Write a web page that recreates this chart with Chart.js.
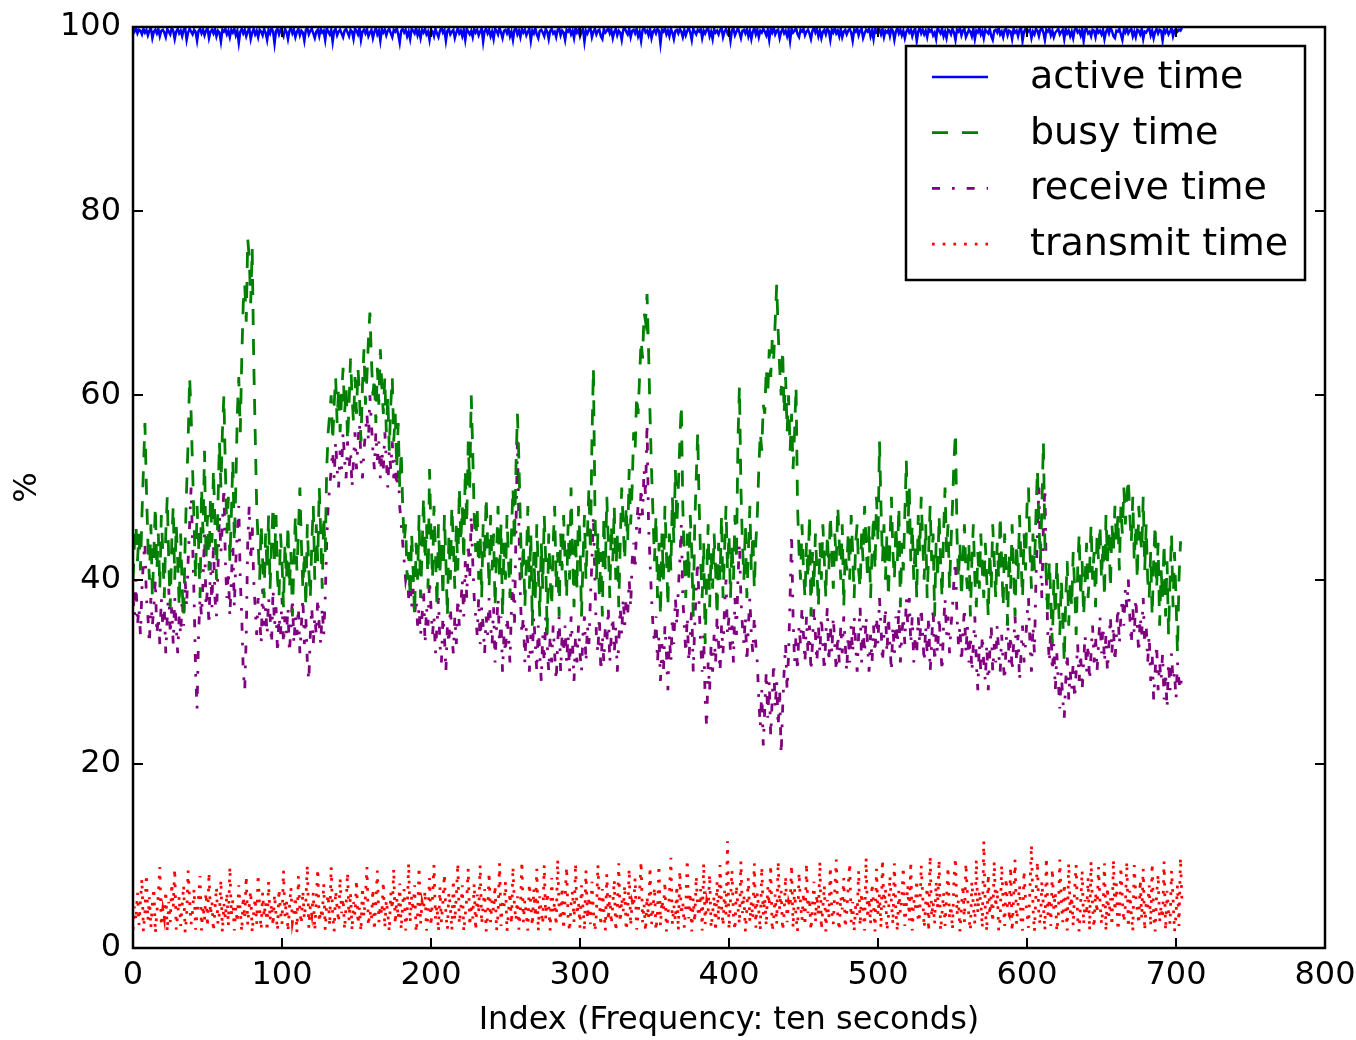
<!DOCTYPE html>
<html>
<head>
<meta charset="utf-8">
<script src="https://cdn.jsdelivr.net/npm/chart.js@4.4.1/dist/chart.umd.min.js"></script>
<style>
  html, body { margin: 0; padding: 0; background: #fff; }
  #wrap { width: 1356px; height: 1040px; }
</style>
</head>
<body>
<div id="wrap"><canvas id="c" width="1356" height="1040"></canvas></div>
<script>
const seriesNames = ["active time", "busy time", "receive time", "transmit time"];
const xTicks = [0, 100, 200, 300, 400, 500, 600, 700, 800];
const yTicks = [0, 20, 40, 60, 80, 100];

const activeTime = [
99.8,99.5,99.9,99.3,99.7,99.6,99.2,99.8,99.4,99.7,
99.1,99.6,99.9,98.8,99.5,99.7,99.3,99.8,99.0,99.6,
99.7,99.4,98.9,99.8,99.5,99.2,99.9,99.6,98.7,99.5,
99.8,99.3,99.6,99.0,99.7,99.9,98.6,99.4,99.8,99.5,
99.2,99.7,99.5,98.5,99.6,99.8,99.3,99.7,99.1,99.6,
99.9,98.8,99.5,99.7,99.3,99.8,99.0,99.6,99.4,98.4,
99.7,99.5,99.8,99.2,99.6,98.9,99.7,99.4,99.8,99.1,
99.6,98.3,99.5,99.8,99.3,99.7,99.0,99.5,99.9,98.7,
99.4,99.8,99.2,99.6,98.9,99.7,99.5,99.1,99.8,99.4,
98.6,99.7,99.3,99.9,99.5,98.2,99.6,99.8,99.2,99.7,
99.4,99.0,99.8,99.5,98.7,99.6,99.9,99.3,99.7,98.9,
99.5,99.8,99.1,99.6,99.4,98.5,99.7,99.9,99.2,99.6,
99.8,99.3,98.8,99.5,99.7,99.0,99.8,99.4,99.6,98.6,
99.9,99.5,99.2,99.7,98.4,99.6,99.8,99.1,99.5,99.7,
99.3,98.9,99.6,99.8,99.4,99.0,99.7,99.5,98.7,99.8,
99.6,99.2,99.9,98.6,99.5,99.7,99.3,99.8,99.0,99.4,
99.7,98.8,99.5,99.9,99.2,99.6,98.5,99.8,99.4,99.7,
99.1,99.6,99.8,99.3,98.9,99.7,99.5,99.9,99.2,98.3,
99.6,99.8,99.4,99.7,99.0,99.5,98.7,99.8,99.6,99.3,
99.9,99.1,99.6,98.8,99.7,99.4,99.8,99.2,99.5,98.6,
99.7,99.5,99.0,99.8,99.3,98.9,99.6,99.9,99.4,99.7,
98.5,99.6,99.8,99.2,99.5,99.7,98.8,99.4,99.9,99.3,
99.6,99.0,99.7,98.6,99.8,99.5,99.2,99.6,98.9,99.8,
99.4,99.7,99.1,99.5,99.9,98.4,99.6,99.8,99.3,99.7,
99.0,99.5,98.7,99.8,99.6,99.2,99.9,99.4,98.8,99.6,
99.7,99.3,99.8,99.0,99.5,98.6,99.7,99.9,99.2,99.6,
98.9,99.8,99.4,99.7,99.1,99.5,99.8,98.5,99.6,99.3,
99.9,99.2,98.8,99.6,99.7,99.4,99.0,99.8,99.5,98.7,
99.6,99.8,99.3,99.5,98.9,99.7,99.9,99.1,99.6,99.4,
98.6,99.7,99.5,99.8,99.2,99.6,98.8,99.9,99.4,99.7,
99.0,99.5,99.8,98.4,99.6,99.3,99.7,99.9,98.9,99.5,
99.8,99.2,99.6,99.7,99.0,98.7,99.8,99.4,99.6,99.9,
99.3,99.7,98.8,99.5,99.8,99.1,99.6,99.4,98.6,99.7,
99.9,99.5,99.2,99.8,98.9,99.6,99.7,99.3,99.8,99.0,
99.5,98.5,99.7,99.9,99.4,99.6,99.1,99.8,98.8,99.5,
99.7,99.3,99.8,99.6,98.2,99.7,99.5,99.9,99.2,99.6,
99.0,99.8,99.4,98.7,99.6,99.7,99.3,99.8,99.5,98.9,
99.7,99.1,99.6,99.9,99.4,98.6,99.8,99.5,99.2,99.7,
99.5,99.8,98.8,99.6,99.3,99.7,99.9,99.0,99.5,98.7,
99.8,99.4,99.6,99.2,99.7,99.9,98.9,99.5,99.8,99.3,
99.6,98.5,99.7,99.8,99.1,99.5,99.9,99.4,98.8,99.6,
99.7,99.3,99.8,99.0,99.6,98.7,99.5,99.9,99.2,99.7,
98.9,99.6,99.4,99.8,99.5,99.1,99.7,98.6,99.8,99.4,
99.9,99.2,99.6,99.7,98.8,99.5,99.8,99.3,99.6,99.0,
99.7,98.5,99.8,99.4,99.6,99.9,99.2,98.9,99.7,99.5,
99.8,99.1,99.5,99.7,99.3,98.7,99.6,99.9,99.4,99.8,
99.0,99.6,98.8,99.5,99.7,99.2,99.8,99.6,98.6,99.7,
99.4,99.9,99.3,99.6,99.0,99.8,98.9,99.5,99.7,99.2,
99.6,99.8,99.4,98.5,99.7,99.5,99.9,99.1,99.6,99.8,
98.8,99.3,99.7,99.5,99.8,99.0,99.6,98.7,99.9,99.4,
99.5,99.7,99.2,99.8,98.9,99.6,99.4,99.7,99.0,99.8,
99.6,98.6,99.5,99.9,99.3,99.7,99.1,99.6,98.8,99.5,
99.8,99.4,99.7,99.0,99.6,99.8,98.5,99.5,99.9,99.3,
99.7,99.2,99.6,98.9,99.8,99.5,99.7,99.1,99.4,98.7,
99.9,99.6,99.3,99.8,99.0,99.5,98.8,99.7,99.6,99.2,
99.8,99.4,98.6,99.7,99.5,99.9,99.1,99.6,99.8,98.9,
99.3,99.7,99.5,99.0,99.8,98.7,99.6,99.4,99.9,99.2,
99.6,98.8,99.7,99.5,99.3,99.8,99.0,98.6,99.6,99.7,
99.4,99.9,99.2,99.5,98.9,99.7,99.8,99.1,99.6,99.5,
98.7,99.8,99.4,99.6,99.0,99.7,99.9,98.5,99.5,99.8,
99.3,99.6,99.7,98.8,99.5,99.2,99.8,99.6,99.0,99.7,
99.9,99.4,98.6,99.7,99.5,99.8,99.1,99.6,98.9,99.4,
99.6,99.8,99.2,99.5,99.7,98.7,99.8,99.3,99.6,99.0,
99.5,98.8,99.7,99.9,99.4,99.6,99.1,99.8,98.5,99.7,
99.8,99.3,99.5,99.0,99.7,99.6,98.9,99.8,99.4,99.6,
99.2,99.7,98.7,99.5,99.8,99.3,99.9,99.6,99.0,98.8,
99.6,99.5,99.8,99.2,98.6,99.7,99.4,99.9,99.3,99.6,
99.8,99.0,99.5,98.9,99.7,99.6,99.2,99.8,98.7,99.5,
99.4,99.7,99.9,99.1,99.6,98.8,99.5,99.8,99.3,99.7,
99.6,98.5,99.8,99.4,99.7,99.2,99.5,99.9,99.0,99.6,
99.8,99.5,99.7,99.6,99.9
];

const busyTime = [
40,44,46,42,45,41,47,52,57,50,
44,40,46,38,43,48,41,45,39,47,
43,38,45,49,42,37,44,48,40,46,
42,37,45,39,36,44,50,55,62,58,
52,46,40,48,44,38,50,45,54,42,
47,41,49,44,52,46,40,48,55,50,
56,60,52,45,49,42,47,53,44,50,
58,62,56,64,70,72,68,77,75,70,
76,64,56,48,44,40,46,42,38,45,
41,47,39,44,48,42,47,40,38,45,
42,37,44,40,46,39,43,36,42,47,
41,45,50,44,39,43,37,46,41,38,
44,48,40,46,42,50,45,39,47,43,
52,56,58,60,55,59,62,57,61,56,
60,63,58,61,55,59,64,60,57,62,
58,63,60,55,61,65,59,62,66,69,
64,60,62,57,63,59,65,61,58,62,
56,60,54,59,62,55,58,52,57,50,
54,48,44,46,40,43,38,45,41,36,
44,40,47,38,43,49,42,46,39,52,
45,40,48,43,37,46,41,44,38,47,
42,36,45,40,48,44,39,46,41,50,
44,48,42,52,46,55,50,60,54,47,
43,48,40,45,38,46,42,49,44,39,
47,41,45,37,43,48,40,46,36,44,
40,47,42,38,45,50,44,52,58,53,
46,40,44,37,42,48,39,45,35,43,
38,46,41,36,44,39,47,42,34,45,
40,37,44,48,39,43,36,45,41,47,
42,38,46,40,50,43,37,45,39,48,
44,36,42,47,40,45,50,43,55,63,
48,40,45,38,43,36,47,41,49,44,
38,46,42,48,40,45,37,44,50,46,
42,48,44,52,46,50,56,54,60,58,
62,66,64,69,68,71,65,58,52,47,
42,47,38,44,36,45,40,48,43,37,
45,41,49,44,52,46,50,55,59,48,
42,38,45,40,47,43,36,46,51,56,
48,42,38,44,33,40,46,37,43,39,
45,41,36,44,40,47,38,43,48,41,
45,38,44,40,47,42,55,61,50,44,
40,46,38,43,48,41,45,39,44,47,
52,56,54,59,58,63,60,65,62,66,
64,68,72,67,63,60,65,58,62,56,
60,54,58,52,56,61,48,43,40,46,
41,38,44,40,47,36,43,39,45,41,
37,44,40,46,42,38,45,41,47,43,
39,45,42,48,44,40,46,37,43,41,
45,40,47,43,38,44,46,41,39,45,
42,48,44,40,46,38,43,47,41,49,
44,55,48,42,46,40,45,38,44,49,
43,40,46,42,48,37,44,41,47,53,
45,50,42,46,40,44,38,47,43,49,
44,40,46,38,43,48,42,45,36,44,
40,47,42,38,45,50,43,46,39,44,
48,53,56,45,40,44,38,42,46,41,
39,44,36,42,46,40,37,43,39,45,
41,38,44,40,36,43,39,46,42,38,
44,40,47,42,37,45,41,35,43,39,
46,41,36,44,40,47,42,38,45,41,
48,50,43,39,45,41,47,52,46,42,
48,55,44,40,36,42,38,33,40,36,
42,38,34,40,36,31,38,42,35,40,
37,43,39,34,41,45,38,42,36,40,
44,38,41,46,40,43,37,45,42,46,
40,44,38,47,42,45,39,46,43,48,
44,47,41,48,45,50,46,49,51,47,
44,49,42,46,40,48,45,43,49,41,
46,40,38,43,36,42,46,39,44,35,
41,38,44,36,42,34,40,45,37,43,
38,32,40,44,44
];

const receiveTime = [
38,36,40,35,37,34,39,42,44,38,
36,33,38,35,37,40,34,36,33,38,
35,37,32,36,39,34,37,33,38,35,
32,36,34,38,35,40,37,42,46,50,
44,38,30,26,34,38,36,40,45,37,
39,35,42,37,44,38,36,41,47,43,
46,50,42,38,41,36,40,44,37,42,
45,48,40,36,30,28,34,44,48,42,
46,40,37,34,38,36,33,39,35,37,
34,38,36,33,39,35,37,32,36,34,
38,33,36,34,37,32,35,38,33,36,
34,37,32,35,38,33,36,31,29,34,
37,33,36,34,38,35,33,37,34,38,
44,48,50,52,54,51,55,52,50,54,
52,56,53,51,55,52,54,50,53,56,
52,55,57,53,51,54,56,58,55,60,
57,54,52,56,53,55,51,54,52,56,
53,50,54,52,55,51,53,50,52,48,
46,44,42,40,41,38,40,37,39,36,
38,35,37,34,36,39,33,37,35,40,
37,34,36,32,35,38,33,31,36,34,
30,35,33,37,34,32,36,33,38,35,
37,40,36,42,38,44,40,47,42,38,
36,34,38,33,37,35,32,36,34,38,
35,33,37,31,35,38,33,36,30,34,
32,36,34,31,37,40,35,45,55,46,
38,34,36,31,35,33,30,34,32,36,
33,30,35,32,29,34,31,36,33,30,
34,31,35,32,29,33,36,30,34,32,
35,31,34,30,36,33,29,34,31,35,
32,30,34,36,31,35,33,38,42,47,
40,34,32,36,30,34,31,35,33,37,
31,34,36,32,35,30,33,37,34,38,
35,38,36,40,37,42,44,41,46,48,
45,50,47,52,49,57,46,42,38,35,
33,36,31,34,29,33,30,35,32,28,
34,31,36,33,38,35,39,42,46,38,
35,32,36,31,34,37,30,35,39,42,
37,33,30,34,27,24,31,28,33,30,
34,31,36,33,30,35,32,37,40,34,
36,32,35,31,38,34,40,44,38,35,
33,36,31,35,38,34,32,36,33,31,
27,24,28,22,26,30,25,29,23,27,
31,26,29,24,28,21,26,30,33,28,
32,38,45,36,31,34,30,35,33,37,
34,31,36,32,35,30,33,37,34,31,
35,32,36,33,30,34,37,31,35,32,
36,33,30,34,31,35,32,36,33,30,
34,31,35,32,36,33,30,34,37,31,
35,32,36,33,30,34,31,35,32,36,
33,38,35,31,34,37,32,36,33,30,
35,32,36,33,37,31,34,36,33,38,
35,38,33,36,31,34,32,36,33,37,
34,31,35,32,36,30,33,37,31,34,
32,36,33,30,35,38,34,36,32,35,
37,40,42,36,33,35,31,34,37,32,
35,31,34,30,33,36,31,28,33,30,
34,31,29,33,28,32,35,30,33,31,
35,32,30,34,31,29,33,36,31,34,
30,33,36,31,34,29,32,35,31,33,
36,38,33,30,35,32,40,45,50,42,
38,46,50,40,34,31,35,30,33,28,
32,29,26,30,27,25,29,32,27,30,
28,31,27,30,33,29,32,28,31,34,
30,33,29,32,35,31,34,30,33,36,
32,35,31,34,30,33,36,32,35,31,
34,37,33,36,38,35,39,37,40,36,
33,37,34,38,35,32,36,34,38,33,
35,31,34,29,32,27,30,33,28,31,
29,32,27,30,26,31,28,32,29,30,
27,31,29,28,30
];

const transmitTime = [
2.0,4.5,3.0,6.0,2.5,5.0,7.5,1.8,4.0,8.0,
3.0,5.5,2.2,4.8,6.5,1.6,3.8,5.8,8.8,2.4,
4.2,3.2,6.2,1.8,5.0,2.8,7.0,4.4,8.6,2.0,
3.6,5.6,2.4,4.6,6.8,1.7,3.4,8.4,5.2,2.6,
4.0,6.4,2.0,3.8,5.4,7.8,1.9,4.6,3.0,6.0,
2.3,8.2,3.6,5.0,1.8,4.2,6.6,2.6,3.8,7.4,
1.7,4.8,3.2,6.0,2.4,8.8,3.6,5.2,1.9,4.4,
2.8,6.8,4.0,1.8,5.6,3.2,7.8,2.5,4.6,6.2,
1.7,3.8,5.4,2.6,8.0,4.2,2.0,6.0,3.4,5.0,
1.8,7.2,3.0,4.8,2.4,5.8,3.6,1.9,6.4,4.0,
2.6,8.4,3.4,5.2,1.8,4.4,6.6,2.8,3.8,5.6,
1.7,7.8,4.0,2.6,6.2,3.2,5.0,9.0,2.2,4.6,
3.6,6.0,1.9,5.2,8.6,2.8,4.2,3.2,7.0,2.0,
4.8,5.8,2.4,8.8,3.6,1.8,6.2,4.4,2.8,7.6,
3.8,5.4,2.0,4.6,8.2,3.0,6.0,1.9,5.0,3.6,
7.4,2.6,4.4,1.8,6.6,3.4,5.6,8.8,2.4,4.0,
3.0,6.4,1.9,5.0,8.4,2.8,4.6,3.6,7.2,2.2,
5.2,3.8,1.8,6.0,4.2,8.6,2.6,5.4,3.2,7.0,
2.0,4.8,6.4,1.9,3.8,9.2,2.8,5.6,4.0,6.8,
1.7,3.4,8.8,2.6,5.0,4.2,6.2,1.9,3.6,7.6,
2.4,5.4,9.0,3.2,4.6,1.8,6.6,2.8,5.0,8.0,
3.6,2.0,6.0,4.4,1.9,7.4,3.0,5.6,9.2,2.6,
4.2,6.8,1.8,3.6,5.4,8.6,2.4,4.8,3.2,7.0,
1.9,5.8,3.8,9.0,2.6,4.6,6.4,1.8,3.4,8.2,
2.8,5.2,4.0,6.8,1.9,3.6,9.2,2.4,5.0,4.4,
7.2,1.8,3.8,6.0,2.6,8.8,4.6,3.0,5.6,2.0,
4.2,9.4,2.8,5.2,3.6,1.9,7.0,4.8,2.4,6.4,
3.4,8.6,1.8,5.6,4.0,2.6,9.0,3.2,6.0,4.6,
1.9,7.6,3.8,5.0,2.4,9.6,4.2,3.0,6.6,2.0,
5.4,8.8,3.4,1.8,4.8,6.2,2.8,9.2,3.6,5.0,
2.2,6.8,4.4,1.9,8.4,3.2,5.6,2.6,7.2,4.0,
1.8,3.6,9.0,5.2,2.4,6.4,4.2,1.9,8.0,3.0,
5.8,2.6,4.6,7.4,1.8,3.8,9.2,2.8,5.4,4.0,
6.8,1.9,3.4,8.6,2.4,5.0,4.4,7.6,2.0,3.6,
6.0,9.4,2.8,4.8,1.8,5.6,3.2,8.8,2.6,4.2,
6.6,1.9,3.8,9.0,2.4,5.2,4.0,7.2,1.8,3.4,
5.8,9.8,2.6,4.6,3.0,6.8,1.9,8.4,3.6,5.0,
2.2,4.4,9.6,3.2,6.0,1.8,5.4,2.8,7.8,4.2,
3.4,6.4,1.9,9.2,2.6,5.0,4.0,8.0,2.2,3.8,
5.6,1.8,7.2,3.0,9.0,4.6,2.4,6.2,3.6,11.6,
2.0,5.2,8.4,3.4,1.9,6.8,4.4,2.6,9.4,3.8,
5.8,1.8,4.2,7.6,2.8,5.0,3.2,9.2,2.2,6.0,
4.0,1.9,8.8,3.6,5.4,2.4,6.6,4.6,9.0,1.8,
3.2,5.8,2.6,9.4,4.2,6.2,1.9,3.8,7.8,2.8,
5.0,4.4,9.0,2.2,6.4,3.4,1.8,8.2,4.8,3.0,
6.0,2.4,9.2,3.8,5.4,1.9,4.6,7.2,2.8,5.8,
3.6,9.4,2.0,4.4,6.8,1.8,5.2,3.2,8.8,4.0,
2.6,6.2,9.6,3.4,1.9,5.6,4.2,7.6,2.2,3.8,
6.6,9.2,2.8,5.0,1.8,4.6,3.6,8.4,2.4,6.0,
4.2,1.9,9.8,3.2,5.4,2.6,7.0,4.8,1.8,8.6,
3.6,5.8,2.2,9.6,4.4,6.4,1.9,3.4,7.8,5.0,
2.6,9.2,4.0,1.8,6.2,3.8,5.4,8.8,2.4,4.6,
6.8,3.0,9.4,1.9,5.2,4.2,7.4,2.8,3.6,9.0,
5.6,2.2,4.8,6.6,1.8,10.0,3.4,5.0,2.6,7.2,
4.4,9.6,1.9,3.8,6.0,2.4,5.4,8.8,3.2,4.6,
2.0,7.6,9.8,3.6,5.2,1.8,4.4,6.8,2.8,9.2,
5.8,3.4,1.9,7.2,4.6,2.6,9.6,3.8,6.2,5.0,
2.2,11.6,4.2,1.8,8.0,3.6,5.6,2.8,9.4,4.4,
6.4,1.9,3.2,9.0,5.0,2.4,7.6,4.0,3.6,8.8,
1.8,5.4,9.6,2.6,4.8,6.8,3.0,1.9,8.4,5.2,
3.8,2.2,6.6,11.2,4.4,1.8,5.8,9.4,3.2,2.6,
7.2,4.6,1.9,9.8,3.6,5.4,2.4,8.6,4.2,6.0,
1.8,3.4,9.6,5.0,2.8,7.0,4.6,1.9,9.2,3.8,
5.6,2.4,6.4,9.0,3.2,1.8,4.8,8.4,2.6,5.2,
3.6,7.6,1.9,9.4,4.4,2.2,6.0,3.8,8.8,5.0,
2.6,4.2,9.2,1.8,6.6,3.4,5.4,2.4,9.6,4.0,
7.0,1.9,3.6,8.8,5.2,2.8,4.6,9.4,2.2,6.2,
3.8,1.8,9.0,5.6,4.2,2.6,7.4,3.2,8.6,1.9,
5.0,4.4,6.8,2.4,9.2,3.6,1.8,5.8,8.0,2.8,
4.6,3.2,9.4,1.9,6.2,4.0,2.6,8.4,5.4,1.8,
3.6,6.8,2.4,9.8,5.0
];

function toPoints(arr) { return arr.map((v, i) => ({ x: i, y: v })); }

const FONT = "'DejaVu Sans', 'Liberation Sans', sans-serif";

const frameAndTicks = {
  id: 'frameAndTicks',
  afterDatasetsDraw(chart) {
    const { ctx, chartArea: a, scales } = chart;
    ctx.save();
    ctx.strokeStyle = '#000';
    ctx.lineWidth = 2;
    const L = 10;
    scales.x.ticks.forEach(t => {
      const px = Math.round(scales.x.getPixelForValue(t.value));
      ctx.beginPath();
      ctx.moveTo(px, a.bottom); ctx.lineTo(px, a.bottom - L);
      ctx.moveTo(px, a.top); ctx.lineTo(px, a.top + L);
      ctx.stroke();
    });
    scales.y.ticks.forEach(t => {
      const py = Math.round(scales.y.getPixelForValue(t.value));
      ctx.beginPath();
      ctx.moveTo(a.left, py); ctx.lineTo(a.left + L, py);
      ctx.moveTo(a.right, py); ctx.lineTo(a.right - L, py);
      ctx.stroke();
    });
    ctx.lineWidth = 2.5;
    ctx.strokeRect(a.left, a.top, a.right - a.left, a.bottom - a.top);
    ctx.restore();
  }
};

const innerLegend = {
  id: 'innerLegend',
  afterDraw(chart) {
    const { ctx } = chart;
    ctx.save();
    const bx = 906, by = 46, bw = 399, bh = 234;
    ctx.fillStyle = '#fff';
    ctx.fillRect(bx, by, bw, bh);
    ctx.strokeStyle = '#000';
    ctx.lineWidth = 2.5;
    ctx.strokeRect(bx, by, bw, bh);
    chart.data.datasets.forEach((ds, i) => {
      const y = 77 + i * 55.7;
      ctx.beginPath();
      ctx.strokeStyle = ds.borderColor;
      ctx.lineWidth = ds.borderWidth;
      ctx.setLineDash(ds.borderDash || []);
      ctx.moveTo(932, y); ctx.lineTo(988, y);
      ctx.stroke();
      ctx.setLineDash([]);
      ctx.fillStyle = '#000';
      ctx.font = '38px ' + FONT;
      ctx.textBaseline = 'middle';
      ctx.textAlign = 'left';
      ctx.fillText(ds.label, 1030, y + 1);
    });
    ctx.restore();
  }
};

new Chart(document.getElementById('c'), {
  type: 'line',
  data: {
    datasets: [
      { label: seriesNames[0], data: toPoints(activeTime), borderColor: '#0000ff', borderWidth: 2.5, borderDash: [] },
      { label: seriesNames[1], data: toPoints(busyTime), borderColor: '#008000', borderWidth: 2.8, borderDash: [16, 14] },
      { label: seriesNames[2], data: toPoints(receiveTime), borderColor: '#800080', borderWidth: 2.8, borderDash: [8, 12, 2.7, 12] },
      { label: seriesNames[3], data: toPoints(transmitTime), borderColor: '#ff0000', borderWidth: 2.8, borderDash: [2.7, 8] }
    ]
  },
  options: {
    responsive: false,
    animation: false,
    devicePixelRatio: 1,
    layout: { padding: { top: 27, right: 31, left: 0, bottom: 0 } },
    elements: { point: { radius: 0 }, line: { tension: 0, fill: false, borderCapStyle: 'butt' } },
    plugins: { legend: { display: false }, tooltip: { enabled: false } },
    scales: {
      x: {
        type: 'linear', min: 0, max: 800,
        afterBuildTicks: s => { s.ticks = xTicks.map(v => ({ value: v })); },
        afterFit: s => { s.height = 92; s.paddingLeft = 0; s.paddingRight = 0; },
        grid: { display: false, drawTicks: false },
        border: { display: false },
        ticks: { color: '#000', font: { family: FONT, size: 32 }, padding: 8, maxRotation: 0, autoSkip: false },
        title: { display: true, text: 'Index (Frequency: ten seconds)', color: '#000', font: { family: FONT, size: 32 }, padding: { top: 0, bottom: 0 } }
      },
      y: {
        min: 0, max: 100,
        afterBuildTicks: s => { s.ticks = yTicks.map(v => ({ value: v })); },
        afterFit: s => { s.width = 133; s.paddingTop = 0; s.paddingBottom = 0; },
        grid: { display: false, drawTicks: false },
        border: { display: false },
        ticks: { color: '#000', font: { family: FONT, size: 32 }, padding: 12, autoSkip: false },
        title: { display: true, text: '%', color: '#000', font: { family: FONT, size: 32 }, padding: { top: 8, bottom: 0 } }
      }
    }
  },
  plugins: [frameAndTicks, innerLegend]
});
</script>
</body>
</html>
